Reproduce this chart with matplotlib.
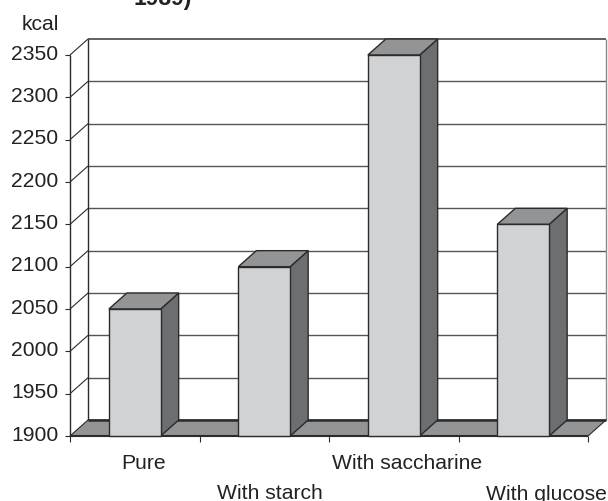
import matplotlib
matplotlib.use("Agg")
import matplotlib.pyplot as plt
from matplotlib.patches import Polygon

plt.rcParams["font.family"] = ["Liberation Sans", "DejaVu Sans"]

# values
categories = ["Pure", "With starch", "With saccharine", "With glucose"]
kcal = [2050, 2100, 2350, 2150]
y_ticks = [1900, 1950, 2000, 2050, 2100, 2150, 2200, 2250, 2300, 2350]

# label centres in pixels, the labels are staggered by hand in the original
label_px = [(144, 464), (270, 494), (407, 464), (546, 495)]

W, H = 608, 502
fig = plt.figure(figsize=(W / 100, H / 100), dpi=100)
ax = fig.add_axes([70 / W, 1 - 437 / H, 518 / W, 381 / H])
ax.set_xlim(0, 4)
ax.set_ylim(1900, 2350)
ax.axis("off")

# 3d look, offset of the back wall in data units
dx = 18 / 129.5
dy = 16 / (381 / 450)
bar_w = 0.40
y0 = y_ticks[0]
y1 = y_ticks[-1]
n = len(categories)
line = "#2b2b2b"
grid = "#555555"
text_col = "#222222"


def poly(pts, color, z, lw=1.0, ec=line):
    ax.add_patch(Polygon(pts, closed=True, fc=color, ec=ec, lw=lw, zorder=z, clip_on=False))


def seg(xs, ys, color=line, lw=1.0, z=1):
    ax.plot(xs, ys, color=color, lw=lw, zorder=z, clip_on=False, solid_capstyle="butt")


# floor
poly([(0, y0), (n, y0), (n + dx, y0 + dy), (dx, y0 + dy)], "#939496", 2, lw=0.8)
seg([dx, n + dx], [y0 + dy, y0 + dy], lw=1.8, z=2.5)

# back wall grid and the diagonals on the side wall
for t in y_ticks[1:]:
    seg([dx, n + dx], [t + dy, t + dy], color=grid, lw=1.0 if t < y1 else 1.3)
    seg([0, dx], [t, t + dy], lw=0.8)
seg([dx, dx], [y0 + dy, y1 + dy], lw=1.0)
seg([n + dx, n + dx], [y0 + dy, y1 + dy], color="#8a8a8a", lw=1.0)

# front axes and ticks
seg([0, 0], [y0, y1], lw=1.0, z=3)
seg([0, n], [y0, y0], lw=1.5, z=3)
tick_x = 5 / 129.5
tick_y = 6 / (381 / 450)
for t in y_ticks:
    seg([-tick_x, 0], [t, t], lw=0.8, z=3)
    ax.text(-tick_x - 0.05, t + 2, str(t), ha="right", va="center", fontsize=15.2, color=text_col)
for i in range(n + 1):
    seg([i, i], [y0, y0 - tick_y], lw=0.8, z=3)

# bars
for i, v in enumerate(kcal):
    left = i + 0.5 - bar_w / 2
    right = i + 0.5 + bar_w / 2
    poly([(right, y0), (right + dx, y0 + dy), (right + dx, v + dy), (right, v)], "#6d6e70", 5)
    poly([(left, v), (right, v), (right + dx, v + dy), (left + dx, v + dy)], "#939496", 5)
    poly([(left, y0), (right, y0), (right, v), (left, v)], "#d1d2d4", 6)

# category labels
for c, (px, py) in zip(categories, label_px):
    fig.text(px / W, 1 - py / H, c, ha="center", va="center", fontsize=15.2, color=text_col)

fig.text(40 / W, 1 - 25 / H, "kcal", ha="center", va="center", fontsize=15.2, color=text_col)
fig.text(163 / W, 1 - 5 / H, "1989)", ha="center", va="baseline", fontsize=16.5, fontweight="bold", color=text_col)

fig.savefig("out.png", dpi=100)
